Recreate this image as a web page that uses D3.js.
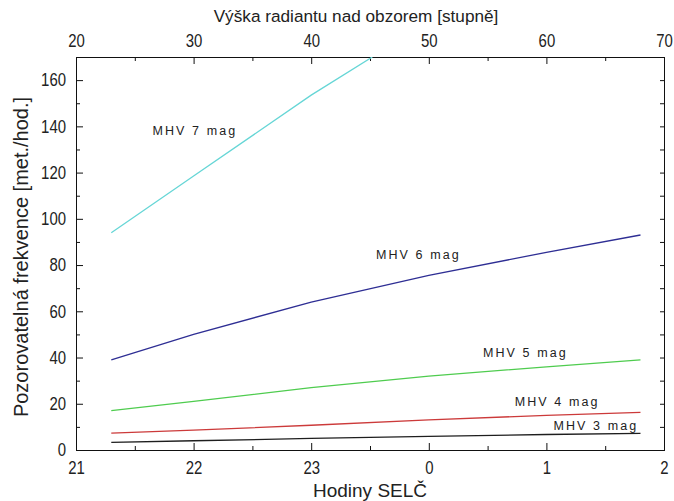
<!DOCTYPE html>
<html>
<head>
<meta charset="utf-8">
<script src="https://cdn.jsdelivr.net/npm/d3@7"></script>
<style>
  html, body { margin: 0; padding: 0; background: #fff; }
  svg { display: block; }
  .tick text { font-family: "Liberation Sans", Arial, sans-serif; fill: #222;
    transform-box: fill-box; transform-origin: 50% 50%; transform: scaleX(0.83); }
  .yaxis .tick text { transform-origin: 100% 50%; }
  .title { font-family: "Liberation Sans", Arial, sans-serif; fill: #222; }
  .lbl { font-family: "Liberation Sans", Arial, sans-serif; font-size: 12.5px; letter-spacing: 2.1px; fill: #222; }
</style>
</head>
<body>
<svg id="chart" width="674" height="501"></svg>
<script>
// ---- data ----
const hours = [21.3, 22, 23, 24, 25, 25.8];            // 24 = 0 h, 25 = 1 h ...
const mhv3 = [3.3, 4.0, 5.0, 5.9, 6.7, 7.2];
const mhv4 = [7.3, 8.6, 10.7, 13.0, 15.0, 16.3];
const mhv5 = [17, 21, 27, 32, 36, 39];
const mhv6 = [39, 50, 64, 75.5, 85.5, 93];
const mhv7Hours = [21.3, 22, 23, 23.52];
const mhv7 = [94, 118.5, 153.5, 170];

const bottomTickValues = [21, 22, 23, 24, 25, 26];
const bottomTickLabels = ["21", "22", "23", "0", "1", "2"];
const topTickValues = [20, 30, 40, 50, 60, 70];
const yTickValues = [0, 20, 40, 60, 80, 100, 120, 140, 160];

const seriesNames = ["MHV 3 mag", "MHV 4 mag", "MHV 5 mag", "MHV 6 mag", "MHV 7 mag"];
const seriesColors = ["#1e1e1e", "#cc3a3a", "#4fcc4f", "#2e2e94", "#66d6d6"];

// ---- layout ----
const L = 76, R = 664, T = 57, B = 450;
const svg = d3.select("#chart");

const x = d3.scaleLinear().domain([21, 26]).range([L, R]);
const xTop = d3.scaleLinear().domain([20, 70]).range([L, R]);
const y = d3.scaleLinear().domain([0, 170]).range([B, T]);

const fs = 18;

// bottom axis
svg.append("g").attr("transform", `translate(0,${B})`)
  .call(d3.axisBottom(x).tickValues(bottomTickValues)
    .tickFormat((d, i) => bottomTickLabels[i]).tickSizeInner(-7).tickSizeOuter(0).tickPadding(11));
svg.append("g").attr("transform", `translate(0,${B})`)
  .call(d3.axisBottom(x).tickValues(d3.range(21.5, 26, 1)).tickFormat("").tickSizeInner(-4).tickSizeOuter(0));

// top axis
svg.append("g").attr("transform", `translate(0,${T})`)
  .call(d3.axisTop(xTop).tickValues(topTickValues).tickFormat(d3.format("d"))
    .tickSizeInner(-7).tickSizeOuter(0).tickPadding(10));
svg.append("g").attr("transform", `translate(0,${T})`)
  .call(d3.axisTop(xTop).tickValues(d3.range(25, 70, 10)).tickFormat("").tickSizeInner(-4).tickSizeOuter(0));

// left axis
svg.append("g").attr("class", "yaxis").attr("transform", `translate(${L},0)`)
  .call(d3.axisLeft(y).tickValues(yTickValues).tickFormat(d3.format("d"))
    .tickSizeInner(-7).tickSizeOuter(0).tickPadding(10));
svg.append("g").attr("transform", `translate(${L},0)`)
  .call(d3.axisLeft(y).tickValues(d3.range(10, 170, 20)).tickFormat("").tickSizeInner(-4).tickSizeOuter(0));

// right axis (ticks only)
svg.append("g").attr("transform", `translate(${R},0)`)
  .call(d3.axisRight(y).tickValues(d3.range(10, 170, 10)).tickFormat("").tickSizeInner(-4).tickSizeOuter(0));

svg.selectAll(".tick text").attr("font-size", fs).attr("font-family", null);
svg.selectAll(".domain").attr("stroke", "#111");
svg.selectAll(".tick line").attr("stroke", "#111");

// frame
svg.append("rect").attr("x", L).attr("y", T).attr("width", R - L).attr("height", B - T)
  .attr("fill", "none").attr("stroke", "#111").attr("stroke-width", 1).attr("shape-rendering", "crispEdges");

// clip
svg.append("clipPath").attr("id", "plotclip").append("rect")
  .attr("x", L).attr("y", T).attr("width", R - L).attr("height", B - T);

const line = d3.line().x(d => x(d[0])).y(d => y(d[1]));
const allSeries = [
  hours.map((h, i) => [h, mhv3[i]]),
  hours.map((h, i) => [h, mhv4[i]]),
  hours.map((h, i) => [h, mhv5[i]]),
  hours.map((h, i) => [h, mhv6[i]]),
  mhv7Hours.map((h, i) => [h, mhv7[i]])
];
const gLines = svg.append("g").attr("clip-path", "url(#plotclip)");
allSeries.forEach((s, i) => {
  gLines.append("path").datum(s).attr("d", line)
    .attr("fill", "none").attr("stroke", seriesColors[i]).attr("stroke-width", 1.3);
});

// series labels (anchored in data coordinates)
const labelPos = [
  [25.06, 8.65],  // MHV 3
  [24.73, 19.0],  // MHV 4
  [24.46, 40.2],  // MHV 5
  [23.55, 82.6],  // MHV 6
  [21.65, 136.3]  // MHV 7
];
seriesNames.forEach((n, i) => {
  svg.append("text").attr("class", "lbl")
    .attr("x", x(labelPos[i][0])).attr("y", y(labelPos[i][1])).text(n);
});

// titles
svg.append("text").attr("class", "title").attr("font-size", 17.2)
  .attr("x", 356).attr("y", 22).attr("text-anchor", "middle")
  .text("Výška radiantu nad obzorem [stupně]");
svg.append("text").attr("class", "title").attr("font-size", 19)
  .attr("x", (L + R) / 2).attr("y", 497).attr("text-anchor", "middle")
  .text("Hodiny SELČ");
svg.append("text").attr("class", "title").attr("font-size", 20)
  .attr("transform", `translate(28,257) rotate(-90)`).attr("text-anchor", "middle")
  .text("Pozorovatelná frekvence [met./hod.]");
</script>
</body>
</html>
